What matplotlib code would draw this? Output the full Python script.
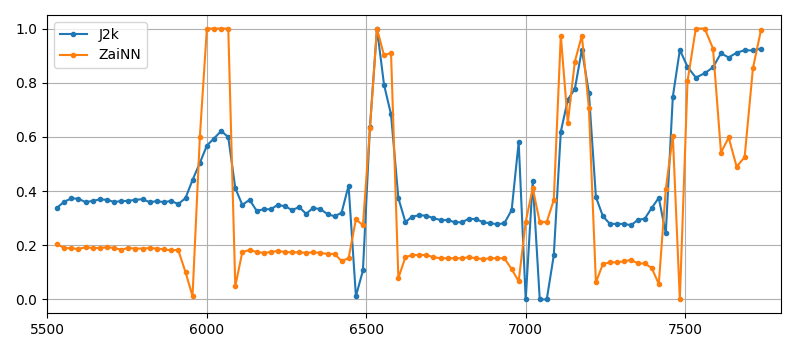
import matplotlib
matplotlib.use('Agg')
import matplotlib.pyplot as plt

# posiciones de muestreo
x_vals = [5531, 5553, 5576, 5598, 5621, 5643, 5665, 5688, 5710, 5732,
          5755, 5777, 5800, 5822, 5844, 5867, 5889, 5911, 5934, 5956,
          5979, 6001, 6023, 6046, 6068, 6090, 6112, 6135, 6157, 6179,
          6201, 6223, 6246, 6268, 6290, 6312, 6334, 6357, 6379, 6401,
          6423, 6445, 6468, 6490, 6512, 6534, 6556, 6578, 6601, 6623,
          6645, 6667, 6689, 6711, 6734, 6756, 6778, 6800, 6822, 6845,
          6867, 6889, 6911, 6933, 6956, 6978, 7000, 7022, 7044, 7066,
          7088, 7110, 7132, 7154, 7176, 7198, 7220, 7242, 7264, 7286,
          7308, 7330, 7352, 7373, 7395, 7417, 7439, 7461, 7483, 7507,
          7533, 7561, 7587, 7612, 7636, 7661, 7686, 7712, 7737]

j2k = [0.338, 0.360, 0.373, 0.372, 0.359, 0.364, 0.369, 0.368, 0.360, 0.363,
       0.364, 0.368, 0.370, 0.359, 0.363, 0.359, 0.364, 0.352, 0.374, 0.441,
       0.504, 0.568, 0.594, 0.622, 0.599, 0.411, 0.349, 0.368, 0.327, 0.333,
       0.333, 0.349, 0.344, 0.330, 0.341, 0.316, 0.338, 0.333, 0.315, 0.307,
       0.320, 0.420, 0.012, 0.107, 0.638, 1.000, 0.793, 0.683, 0.374, 0.286,
       0.306, 0.311, 0.309, 0.300, 0.293, 0.293, 0.285, 0.285, 0.298, 0.296,
       0.285, 0.281, 0.278, 0.281, 0.330, 0.581, 0.000, 0.437, 0.000, 0.000,
       0.163, 0.619, 0.738, 0.777, 0.922, 0.763, 0.378, 0.307, 0.279, 0.279,
       0.279, 0.274, 0.294, 0.298, 0.338, 0.375, 0.244, 0.748, 0.921, 0.859,
       0.819, 0.835, 0.857, 0.909, 0.893, 0.911, 0.920, 0.919, 0.926]

zainn = [0.205, 0.190, 0.189, 0.186, 0.193, 0.190, 0.190, 0.193, 0.190, 0.184,
         0.190, 0.188, 0.188, 0.190, 0.188, 0.185, 0.181, 0.183, 0.101, 0.012,
         0.601, 1.000, 1.000, 1.000, 1.000, 0.049, 0.175, 0.183, 0.175, 0.172,
         0.175, 0.179, 0.175, 0.174, 0.174, 0.172, 0.174, 0.172, 0.168, 0.168,
         0.142, 0.152, 0.296, 0.274, 0.632, 1.000, 0.901, 0.910, 0.079, 0.156,
         0.164, 0.164, 0.164, 0.156, 0.152, 0.152, 0.152, 0.152, 0.156, 0.152,
         0.149, 0.152, 0.152, 0.152, 0.112, 0.067, 0.286, 0.411, 0.286, 0.286,
         0.367, 0.974, 0.652, 0.878, 0.974, 0.707, 0.063, 0.131, 0.137, 0.137,
         0.141, 0.146, 0.133, 0.133, 0.116, 0.057, 0.407, 0.605, 0.000, 0.805,
         1.000, 1.000, 0.926, 0.542, 0.598, 0.490, 0.525, 0.853, 0.993]

fig, ax = plt.subplots(figsize=(7.96, 3.51), dpi=100)
ax.plot(x_vals, j2k, '.-', label='J2k')
ax.plot(x_vals, zainn, '.-', label='ZaiNN')
ax.set_xlim(5500, 7800)
ax.set_ylim(-0.05, 1.05)
ax.grid(True)
ax.legend(loc='upper left')
plt.subplots_adjust(left=47/796, right=781/796, top=1 - 15/351, bottom=1 - 313/351)
plt.savefig('out.png')
